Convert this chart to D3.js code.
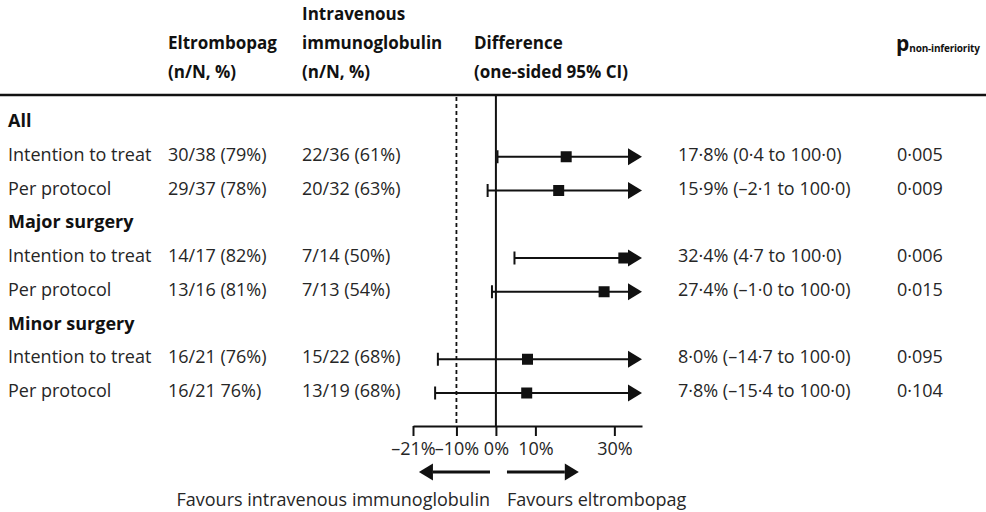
<!DOCTYPE html>
<html>
<head>
<meta charset="utf-8">
<script src="https://cdn.jsdelivr.net/npm/d3@7"></script>
<style>
  html, body { margin: 0; padding: 0; background: #fff; }
  svg { display: block; font-family: "Open Sans", sans-serif; }
  .txt { font-size: 18px; fill: #262626; }
  .hdr { font-size: 17px; font-weight: 700; fill: #111; }
  .grp { font-size: 18px; font-weight: 700; fill: #111; }
</style>
</head>
<body>
<div id="chart"></div>
<script>
// ─── Data ────────────────────────────────────────────────────────────────────
const groups = ["All", "Major surgery", "Minor surgery"];
const analyses = ["Intention to treat", "Per protocol"];
const eltrombopag = ["30/38 (79%)", "29/37 (78%)", "14/17 (82%)", "13/16 (81%)", "16/21 (76%)", "16/21 76%)"];
const immunoglobulin = ["22/36 (61%)", "20/32 (63%)", "7/14 (50%)", "7/13 (54%)", "15/22 (68%)", "13/19 (68%)"];
const estimate = [17.8, 15.9, 32.4, 27.4, 8.0, 7.8];
const lowerCI = [0.4, -2.1, 4.7, -1.0, -14.7, -15.4];
const upperCI = [100.0, 100.0, 100.0, 100.0, 100.0, 100.0];
const pValues = ["0·005", "0·009", "0·006", "0·015", "0·095", "0·104"];
const tickValues = [-21, -10, 0, 10, 30];
const margin = -10; // non-inferiority margin

const W = 986, H = 512;
const svg = d3.select("#chart").append("svg").attr("width", W).attr("height", H);

// lancet style numbers: middle dot decimals, en dash minus
const fmt = (v) => d3.format(".1f")(v).replace(".", "·").replace("-", "–").replace("−", "–");

const x = d3.scaleLinear().domain([-21, 37]).range([413, 642]);
const rowIdx = d3.range(9);
const y = d3.scalePoint().domain(rowIdx).range([121, 391]);

// rows: heading then 2 analyses per group
const rows = [];
groups.forEach((g, gi) => {
  rows.push({ type: "group", label: g });
  analyses.forEach((a, ai) => rows.push({ type: "data", label: a, k: gi * 2 + ai }));
});
rows.forEach((r, i) => r.y = y(i));
const dataRows = rows.filter((r) => r.type === "data");

// ─── Header ──────────────────────────────────────────────────────────────────
const hdr = svg.append("g").attr("class", "hdr");
[
  { x: 168, lines: ["", "Eltrombopag", "(n/N, %)"] },
  { x: 302, lines: ["Intravenous", "immunoglobulin", "(n/N, %)"] },
  { x: 474, lines: ["", "Difference", "(one-sided 95% CI)"] },
].forEach((c) => {
  c.lines.forEach((t, i) => {
    if (t) hdr.append("text").attr("x", c.x).attr("y", 20 + i * 29).text(t);
  });
});
const pt = hdr.append("text").attr("x", 896).attr("y", 51);
pt.append("tspan").attr("font-size", 21).text("p");
pt.append("tspan").attr("font-size", 10).attr("dy", 1).attr("letter-spacing", -0.2).text("non-inferiority");

svg.append("line").attr("x1", 0).attr("x2", W).attr("y1", 95).attr("y2", 95)
  .attr("stroke", "#111").attr("stroke-width", 2.5);

// ─── Reference lines ─────────────────────────────────────────────────────────
const axisY = 426;
svg.append("line").attr("x1", x(0)).attr("x2", x(0)).attr("y1", 96).attr("y2", axisY)
  .attr("stroke", "#111").attr("stroke-width", 2);
svg.append("line").attr("x1", x(margin)).attr("x2", x(margin)).attr("y1", 97).attr("y2", axisY)
  .attr("stroke", "#111").attr("stroke-width", 1.8).attr("stroke-dasharray", "4,3");

// ─── Table text ──────────────────────────────────────────────────────────────
svg.selectAll("text.rowlab").data(rows).join("text")
  .attr("class", (d) => d.type === "group" ? "rowlab grp" : "rowlab txt")
  .attr("x", 8).attr("y", (d) => d.y + 6).text((d) => d.label);

const dg = svg.append("g").attr("class", "txt");
dg.selectAll("text.el").data(dataRows).join("text").attr("class", "el")
  .attr("x", 168).attr("y", (d) => d.y + 6).text((d) => eltrombopag[d.k]);
dg.selectAll("text.iv").data(dataRows).join("text").attr("class", "iv")
  .attr("x", 302).attr("y", (d) => d.y + 6).text((d) => immunoglobulin[d.k]);
dg.selectAll("text.ci").data(dataRows).join("text").attr("class", "ci")
  .attr("x", 678).attr("y", (d) => d.y + 6)
  .text((d) => `${fmt(estimate[d.k])}% (${fmt(lowerCI[d.k])} to ${fmt(upperCI[d.k])})`);
dg.selectAll("text.pv").data(dataRows).join("text").attr("class", "pv")
  .attr("x", 897).attr("y", (d) => d.y + 6).text((d) => pValues[d.k]);

// ─── Forest marks ────────────────────────────────────────────────────────────
const xmax = x.domain()[1];
const headW = 14, headH = 17, capH = 13, box = 11;
const fy = (d) => d.y + 2;
const marks = svg.append("g");
marks.selectAll("line.ci").data(dataRows).join("line").attr("class", "ci")
  .attr("x1", (d) => x(lowerCI[d.k])).attr("x2", x(xmax) - headW + 1)
  .attr("y1", fy).attr("y2", fy).attr("stroke", "#111").attr("stroke-width", 2);
marks.selectAll("line.cap").data(dataRows).join("line").attr("class", "cap")
  .attr("x1", (d) => x(lowerCI[d.k])).attr("x2", (d) => x(lowerCI[d.k]))
  .attr("y1", (d) => fy(d) - capH / 2).attr("y2", (d) => fy(d) + capH / 2)
  .attr("stroke", "#111").attr("stroke-width", 2);
marks.selectAll("path.head").data(dataRows).join("path").attr("class", "head")
  .attr("d", (d) => `M${x(xmax)},${fy(d)} L${x(xmax) - headW},${fy(d) - headH / 2} L${x(xmax) - headW},${fy(d) + headH / 2} Z`)
  .attr("fill", "#111");
marks.selectAll("rect.pt").data(dataRows).join("rect").attr("class", "pt")
  .attr("x", (d) => x(estimate[d.k]) - box / 2).attr("y", (d) => fy(d) - box / 2)
  .attr("width", box).attr("height", box).attr("fill", "#111");

// ─── Axis ────────────────────────────────────────────────────────────────────
const ax = svg.append("g").attr("transform", `translate(0,${axisY})`)
  .call(d3.axisBottom(x).tickValues(tickValues).tickSize(10).tickSizeOuter(0)
    .tickFormat((d) => `${d < 0 ? "–" + Math.abs(d) : d}%`));
ax.select(".domain").attr("stroke", "#111").attr("stroke-width", 2);
ax.selectAll(".tick line").attr("stroke", "#111").attr("stroke-width", 2);
ax.selectAll(".tick text").attr("font-family", "Open Sans, sans-serif")
  .attr("font-size", 18).attr("fill", "#262626").attr("dy", 0).attr("y", 29);

// ─── Favours arrows ──────────────────────────────────────────────────────────
const arrY = 472;
const fav = svg.append("g");
const arrow = (from, to) => {
  const x1 = x(from), x2 = x(to), dir = Math.sign(x2 - x1);
  fav.append("line").attr("x1", x1).attr("x2", x2 - dir * headW).attr("y1", arrY).attr("y2", arrY)
    .attr("stroke", "#111").attr("stroke-width", 3);
  fav.append("path").attr("d", `M${x2},${arrY} L${x2 - dir * headW},${arrY - headH / 2} L${x2 - dir * headW},${arrY + headH / 2} Z`)
    .attr("fill", "#111");
};
arrow(-1.5, -19.5);
arrow(2.8, 21);
fav.append("text").attr("class", "txt").attr("x", x(-1.5)).attr("y", 506).attr("text-anchor", "end")
  .text("Favours intravenous immunoglobulin");
fav.append("text").attr("class", "txt").attr("x", x(2.8)).attr("y", 506)
  .text("Favours eltrombopag");
</script>
</body>
</html>
